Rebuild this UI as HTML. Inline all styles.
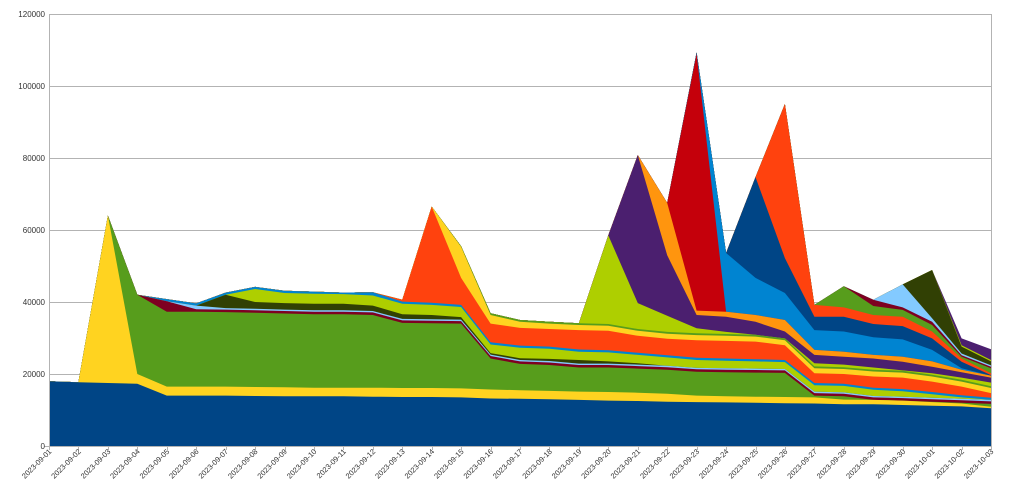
<!DOCTYPE html>
<html><head><meta charset="utf-8">
<style>
html,body{margin:0;padding:0;background:#fff;}
svg{display:block;font-family:"Liberation Sans",sans-serif;}
</style></head>
<body>
<svg id="c" width="1014" height="493" viewBox="0 0 1014 493" xmlns="http://www.w3.org/2000/svg">
<g stroke="#b3b3b3" stroke-width="1">
<line x1="49" y1="14.5" x2="991" y2="14.5"/>
<line x1="49" y1="86.5" x2="991" y2="86.5"/>
<line x1="49" y1="158.5" x2="991" y2="158.5"/>
<line x1="49" y1="230.5" x2="991" y2="230.5"/>
<line x1="49" y1="302.5" x2="991" y2="302.5"/>
<line x1="49" y1="374.5" x2="991" y2="374.5"/>
<line x1="991.5" y1="14" x2="991.5" y2="446"/>
</g>
<g id="areas"></g>
<g stroke="#b3b3b3" stroke-width="1">
<line x1="49.5" y1="14" x2="49.5" y2="447"/>
<line x1="44" y1="446.5" x2="991" y2="446.5"/>
</g>
<g id="ticks" stroke="#b3b3b3" stroke-width="1"></g>
<g font-size="8" fill="#333" text-anchor="end">
<text x="45" y="17">120000</text>
<text x="45" y="89">100000</text>
<text x="45" y="161">80000</text>
<text x="45" y="233">60000</text>
<text x="45" y="305">40000</text>
<text x="45" y="377">20000</text>
<text x="45" y="449">0</text>
</g>
<g font-size="7.5" fill="#333" text-anchor="end">
<text transform="translate(52,452) rotate(-45)">2023-09-01</text>
<text transform="translate(81.4,452) rotate(-45)">2023-09-02</text>
<text transform="translate(110.9,452) rotate(-45)">2023-09-03</text>
<text transform="translate(140.3,452) rotate(-45)">2023-09-04</text>
<text transform="translate(169.8,452) rotate(-45)">2023-09-05</text>
<text transform="translate(199.2,452) rotate(-45)">2023-09-06</text>
<text transform="translate(228.6,452) rotate(-45)">2023-09-07</text>
<text transform="translate(258.1,452) rotate(-45)">2023-09-08</text>
<text transform="translate(287.5,452) rotate(-45)">2023-09-09</text>
<text transform="translate(317,452) rotate(-45)">2023-09-10</text>
<text transform="translate(346.4,452) rotate(-45)">2023-09-11</text>
<text transform="translate(375.8,452) rotate(-45)">2023-09-12</text>
<text transform="translate(405.3,452) rotate(-45)">2023-09-13</text>
<text transform="translate(434.7,452) rotate(-45)">2023-09-14</text>
<text transform="translate(464.2,452) rotate(-45)">2023-09-15</text>
<text transform="translate(493.6,452) rotate(-45)">2023-09-16</text>
<text transform="translate(523,452) rotate(-45)">2023-09-17</text>
<text transform="translate(552.5,452) rotate(-45)">2023-09-18</text>
<text transform="translate(581.9,452) rotate(-45)">2023-09-19</text>
<text transform="translate(611.4,452) rotate(-45)">2023-09-20</text>
<text transform="translate(640.8,452) rotate(-45)">2023-09-21</text>
<text transform="translate(670.2,452) rotate(-45)">2023-09-22</text>
<text transform="translate(699.7,452) rotate(-45)">2023-09-23</text>
<text transform="translate(729.1,452) rotate(-45)">2023-09-24</text>
<text transform="translate(758.6,452) rotate(-45)">2023-09-25</text>
<text transform="translate(788,452) rotate(-45)">2023-09-26</text>
<text transform="translate(817.4,452) rotate(-45)">2023-09-27</text>
<text transform="translate(846.9,452) rotate(-45)">2023-09-28</text>
<text transform="translate(876.3,452) rotate(-45)">2023-09-29</text>
<text transform="translate(905.8,452) rotate(-45)">2023-09-30</text>
<text transform="translate(935.2,452) rotate(-45)">2023-10-01</text>
<text transform="translate(964.6,452) rotate(-45)">2023-10-02</text>
<text transform="translate(994,452) rotate(-45)">2023-10-03</text>
</g>
</svg>
<script>
(function(){
var N=33,X=function(i){return 49+29.4375*i;},Y=function(v){return 446-3.6*v;};
function mk(prev,ov,off,from){var a=prev.slice();if(off){for(var i=(from||0);i<N;i++)a[i]=prev[i]+off;}for(var k in ov)a[+k]=ov[k];return a;}
var L=[],C=[];
function push(a,c){var p=L.length?L[L.length-1]:null;if(p)a=a.map(function(v,i){return Math.max(v,p[i]);});L.push(a);C.push(c);return a;}
var l1=push([18,17.7,17.5,17.3,14,14,14,13.9,13.8,13.8,13.8,13.7,13.6,13.6,13.5,13.2,13.1,13,12.8,12.6,12.5,12.3,12.2,12.1,12,11.9,11.8,11.6,11.6,11.4,11.2,11,10.5],"#004586");
var l2=push([18,17.7,64,20,16.5,16.5,16.5,16.4,16.3,16.2,16.2,16.2,16.1,16.1,16,15.7,15.5,15.3,15.1,15,14.8,14.5,14,13.8,13.7,13.6,13.5,12.9,12.8,12.6,12.2,11.8,10.9],"#ffd320");
var l3=push([18,17.7,64,42,37.3,37.3,37.2,37,36.8,36.6,36.6,36.4,34.2,34.1,34,24.3,22.8,22.5,21.8,21.8,21.5,21.2,20.6,20.5,20.4,20.3,14,13.8,12.8,12.6,12.3,12,11.7],"#579d1c");
var l4=push(mk(l3,{3:42,4:40.2},0.7,4),"#7e0021");
var l5=push(mk(l4,{5:39},0.4,5),"#83caff");
var l6=push(mk(l5,{5:39,6:42,7:40,8:39.7,9:39.5,10:39.5,11:39,12:36.6,13:36.4,14:35.8,15:25.8,16:24.4,17:24.2,18:23.9,19:23.5,20:23,21:22.3,22:21.6,23:21.5,24:21.4,25:21.3,26:15.1,27:14.8,28:13.9,29:13.6,30:13.2,31:12.6,32:11.9}),"#314004");
var l7=push(mk(l6,{7:43.6,8:42.5,9:42.3,10:42.2,11:41.8,12:39.5,13:39.2,14:38.6,15:28.2,16:27.3,17:27,18:26.2,19:26,20:25.3,21:24.6,22:23.9,23:23.7,24:23.5,25:23.3,26:16.9,27:16.7,28:15.6,29:15.2,30:14.4,31:13.5,32:12.3}),"#aecf00");
var l8=push(mk(l7,{10:42.6,11:42.7},0.6,4),"#0084d1");
var l9=push(mk(l8,{12:40.6,13:66.5,14:46.7,15:34,16:32.8,17:32.5,18:32.2,19:32,20:30.6,21:29.8,22:29.4,23:29.2,24:29,25:28,26:20.2,27:20,28:19.3,29:19,30:17.9,31:16.5,32:14.7}),"#ff420e");
var l10=push(mk(mk(l9,{},1.4,18),{13:66.5,14:55.3,15:36.4,16:34.5,17:34}),"#ffd320");
var l11=push(mk(mk(l10,{},0.5,14),{14:55.5}),"#579d1c");
var l12=push(mk(l11,{19:58.5,20:39.7,21:36.2,22:32.7,23:31.7,24:30.8,25:28.6,26:23,27:22.6,28:21.8,29:21,30:20.2,31:19,32:17.6}),"#aecf00");
var l13=push(mk(l12,{19:58.5,20:80.8,21:53,22:36.4,23:35.9,24:34.5,25:31.8,26:25.3,27:24.8,28:24.3,29:23.4,30:22,31:20.5,32:19}),"#4b1f6f");
var l14=push(mk(l13,{20:80.8,21:67.5,22:37.6,23:37.3,24:36.4,25:35,26:26.7,27:26.2,28:25.3,29:24.8,30:23.5,31:21.2,32:19.5}),"#ff950e");
var l15=push(mk(l14,{21:67.5,22:109,23:37.3}),"#c5000b");
var l16=push(mk(l15,{22:109.3,23:53.6,24:46.7,25:42.5,26:32.2,27:31.8,28:30.2,29:29.6,30:26.7,31:21.6,32:17.4}),"#0084d1");
var l17=push(mk(l16,{23:53.6,24:74.7,25:52.2,26:35.9,27:35.9,28:33.9,29:33.3,30:29.9,31:23.4,32:19.7}),"#004586");
var l18=push(mk(l17,{24:74.7,25:95,26:39.2,27:38.5,28:36.4,29:35.9,30:31.8,31:24.3,32:20.2}),"#ff420e");
var l19=push(mk(l18,{26:39.2,27:44.4,28:38.9,29:37.8,30:33.6,31:24.8,32:21.6}),"#579d1c");
var l20=push(mk(l19,{27:44.4,28:40.6,29:38.5,30:34.5,31:25.2,32:22}),"#7e0021");
var l21=push(mk(l20,{28:40.6,29:44.9,30:35.5,31:25.7,32:22.4}),"#83caff");
var l22=push(mk(l21,{29:44.9,30:48.9,31:27.6,32:23.5}),"#314004");
var l23=push(mk(l22,{31:28,32:23.9}),"#aecf00");
var l24=push(mk(l23,{31:29.9,32:26.9}),"#4b1f6f");
var ns="http://www.w3.org/2000/svg",g=document.getElementById("areas");
for(var k=L.length-1;k>=0;k--){var a=L[k],pts=[];for(var i=0;i<N;i++)pts.push(X(i).toFixed(1)+","+Y(a[i]).toFixed(1));pts.push(X(N-1)+",446");pts.push(X(0)+",446");
var p=document.createElementNS(ns,"polygon");p.setAttribute("points",pts.join(" "));p.setAttribute("fill",C[k]);g.appendChild(p);}
var t=document.getElementById("ticks");
for(var i=0;i<N;i++){var l=document.createElementNS(ns,"line");var x=Math.round(X(i))+0.5;l.setAttribute("x1",x);l.setAttribute("x2",x);l.setAttribute("y1",446);l.setAttribute("y2",450);t.appendChild(l);}
})();
</script>
</body></html>
